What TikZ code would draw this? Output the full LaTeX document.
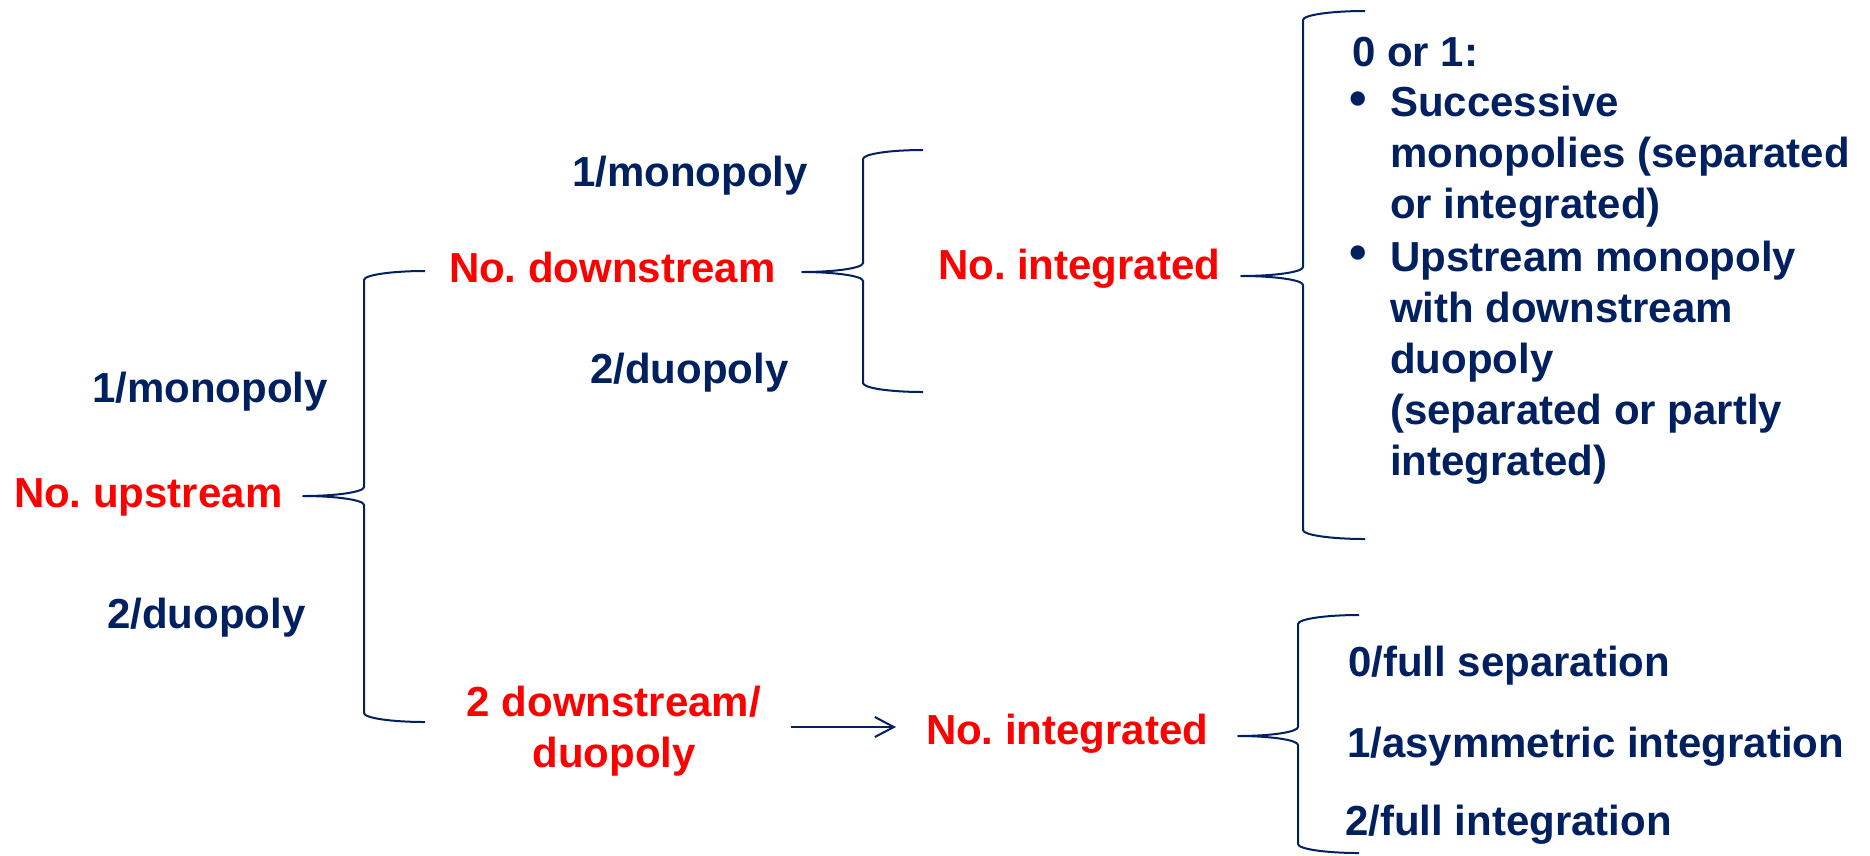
\documentclass[tikz,border=0pt]{standalone}
\usepackage{fontspec}
\setmainfont{Liberation Sans}
\frenchspacing
\usetikzlibrary{arrows.meta}
\definecolor{navy}{HTML}{002060}
\definecolor{redc}{HTML}{FF0000}
\tikzset{
  lab/.style={font=\fontsize{42}{51}\selectfont\bfseries, inner sep=0pt, outer sep=0pt, anchor=base west},
  navytext/.style={lab, text=navy},
  redtext/.style={lab, text=redc},
  bul/.style={font=\fontsize{50}{51}\selectfont\bfseries, text=navy, inner sep=0pt, outer sep=0pt, anchor=center},
  brc/.style={draw=navy, line width=2pt, line join=round},
  arr/.style={draw=navy, line width=2pt, -{Straight Barb[length=19pt,width=20pt]}}
}
\newcommand{\mkbrace}[6]{%
  \draw[brc] (#4,#5) .. controls ({#4-0.55*(#4-#3)},#5) and (#3,{#5+4}) .. (#3,{#5+9})
     -- (#3,{#2-9}) .. controls (#3,{#2-4}) and ({#1+0.55*(#3-#1)},#2) .. (#1,#2)
     .. controls ({#1+0.55*(#3-#1)},#2) and (#3,{#2+4}) .. (#3,{#2+9})
     -- (#3,{#6-9}) .. controls (#3,{#6-4}) and ({#4-0.55*(#4-#3)},#6) .. (#4,#6);
}
\begin{document}
\begin{tikzpicture}[x=1pt,y=-1pt]
\useasboundingbox (0,0) rectangle (1870,855);
% left column
\node[redtext]  (up) at (14,507) {No. upstream};
\node[navytext] (m1) at (92,402) {1/monopoly};
\node[navytext] (d1) at (107,628) {2/duopoly};
% middle upper
\node[redtext]  (down) at (449,282) {No. downstream};
\node[navytext] (m2) at (572,186) {1/monopoly};
\node[navytext] (d2) at (590,383) {2/duopoly};
\node[redtext]  (int1) at (938,279) {No. integrated};
% right list (multi-line nodes: base = last line's baseline)
\node[navytext] (zero) at (1352,66) {0 or 1:};
\node[bul] (b1) at (1358,104) {•};
\node[navytext, align=left] (it1) at (1390,218) {Successive\\monopolies (separated\\or integrated)};
\node[bul] (b2) at (1358,258) {•};
\node[navytext, align=left] (it2) at (1390,475) {Upstream monopoly\\with downstream\\duopoly\\(separated or partly\\integrated)};
% lower branch
\node[redtext, align=center, anchor=base] (ds) at (614,767) {2 downstream/\\duopoly};
\node[redtext]  (int2) at (926,744) {No. integrated};
\node[navytext] (f0) at (1348,676) {0/full separation};
\node[navytext] (f1) at (1347,757) {1/asymmetric integration};
\node[navytext] (f2) at (1345,835) {2/full integration};
% braces
\mkbrace{303}{496}{364}{425}{271}{722}
\mkbrace{802}{272}{863}{923}{150}{392}
\mkbrace{1241}{276}{1303}{1365}{11}{539}
\mkbrace{1238}{736}{1298}{1359}{615}{853}
% arrow
\coordinate (arrS) at (791,727);
\draw[arr, shorten >=30pt] (arrS) -- (arrS -| int2.west);
\end{tikzpicture}
\end{document}
